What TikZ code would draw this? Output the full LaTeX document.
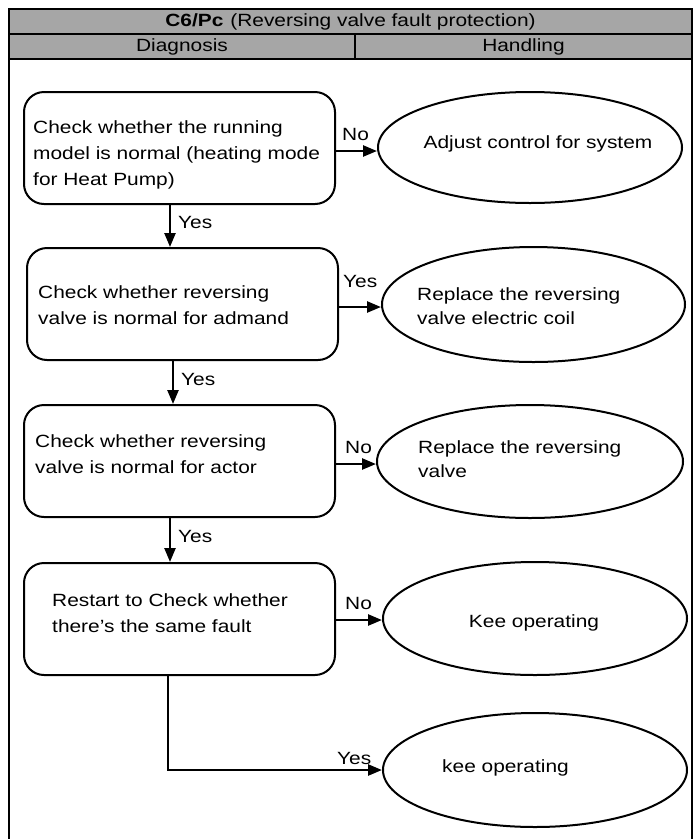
\documentclass[tikz,border=0pt]{standalone}
\usepackage{fontspec}
\setmainfont{Liberation Sans}[FakeStretch=1.18]
\usetikzlibrary{arrows.meta,shapes.geometric}
\definecolor{hdr}{HTML}{A6A6A6}
\begin{document}
\begin{tikzpicture}[x=1pt,y=-1pt,
  box/.style={draw,line width=2pt,rounded corners=20pt,minimum width=311pt,minimum height=112pt,inner sep=0pt},
  oval/.style={draw,line width=2pt,ellipse,inner sep=0pt},
  txt/.style={inner sep=0pt,align=left,anchor=north west,font=\fontsize{17.7}{26}\selectfont},
  otxt/.style={inner sep=0pt,align=left,anchor=north west,font=\fontsize{17.7}{24}\selectfont},
  lbl/.style={inner sep=0pt,anchor=base west,font=\fontsize{17.7}{20}\selectfont},
  hcell/.style={draw,line width=2pt,fill=hdr,inner sep=0pt,minimum height=25pt,font=\fontsize{17.7}{20}\selectfont},
  arr/.style={line width=2.5pt,-{Triangle[length=14pt,width=11pt]}},
  conn/.style={line width=2.2pt}]
\useasboundingbox (0,0) rectangle (700,839);
% outer frame (open at bottom)
\draw[line width=2pt] (9,850) -- (9,9) -- (692,9) -- (692,850);
% header
\node[hcell,minimum width=683pt] (title) at (350.5,21.5) {\textbf{C6/Pc}\hspace{7pt}(Reversing valve fault protection)};
\node[hcell,minimum width=346pt] (diag) at (182,46.5) {Diagnosis};
\node[hcell,minimum width=337pt] (hand) at (523.5,46.5) {Handling};
% boxes
\node[box] (b1) at (179.5,148) {};
\node[box] (b2) at (182.5,304) {};
\node[box] (b3) at (179.5,461) {};
\node[box] (b4) at (179.5,619) {};
% ellipses
\node[oval,minimum width=304pt,minimum height=111pt] (e1) at (530,147.5) {};
\node[oval,minimum width=303pt,minimum height=115pt] (e2) at (533.5,304.5) {};
\node[oval,minimum width=306pt,minimum height=113pt] (e3) at (530,461.5) {};
\node[oval,minimum width=304pt,minimum height=113pt] (e4) at (535,618.5) {};
\node[oval,minimum width=304pt,minimum height=114pt] (e5) at (535,770) {};
% box texts
\node[txt] (t1) at (33,120.3) {Check whether the running\\model is normal (heating mode\\for Heat Pump)};
\node[txt] (t2) at (38,285.3) {Check whether reversing\\valve is normal for admand};
\node[txt] (t3) at (35,434.3) {Check whether reversing\\valve is normal for actor};
\node[txt] (t4) at (52,593.3) {Restart to Check whether\\there’s the same fault};
% ellipse texts
\node[lbl,anchor=base] (u1) at (538,148) {Adjust control for system};
\node[otxt] (u2) at (417,287.3) {Replace the reversing\\valve electric coil};
\node[otxt] (u3) at (418,440.3) {Replace the reversing\\valve};
\node[lbl,anchor=base] (u4) at (534,627) {Kee operating};
\node[lbl] (u5) at (442,772) {kee operating};
% vertical arrows
\draw[arr] ([xshift=-9.5pt]b1.south) -- ([xshift=-9.5pt]b1.south |- b2.north);
\draw[arr] ([xshift=-9.5pt]b2.south) -- ([xshift=-9.5pt]b2.south |- b3.north);
\draw[arr] ([xshift=-9.5pt]b3.south) -- ([xshift=-9.5pt]b3.south |- b4.north);
% horizontal arrows
\draw[arr] ([yshift=-3pt]b1.east) -- ([yshift=-3pt]b1.east -| e1.west);
\draw[arr] ([yshift=-3pt]b2.east) -- ([yshift=-3pt]b2.east -| e2.west);
\draw[arr] ([yshift=-3pt]b3.east) -- ([yshift=-3pt]b3.east -| e3.west);
\draw[arr] ([yshift=-1pt]b4.east) -- ([yshift=-1pt]b4.east -| e4.west);
\coordinate (c5) at ([xshift=-11.5pt]b4.south);
\draw[arr] (c5) |- (e5.west);
% labels
\node[lbl] (n1) at (342,140) {No};
\node[lbl] (y2) at (343,287) {Yes};
\node[lbl] (n3) at (345,453) {No};
\node[lbl] (n4) at (345,609) {No};
\node[lbl] (y5) at (337,764) {Yes};
\node[lbl] (d1) at (178,228) {Yes};
\node[lbl] (d2) at (181,385) {Yes};
\node[lbl] (d3) at (178,542) {Yes};
\end{tikzpicture}
\end{document}
